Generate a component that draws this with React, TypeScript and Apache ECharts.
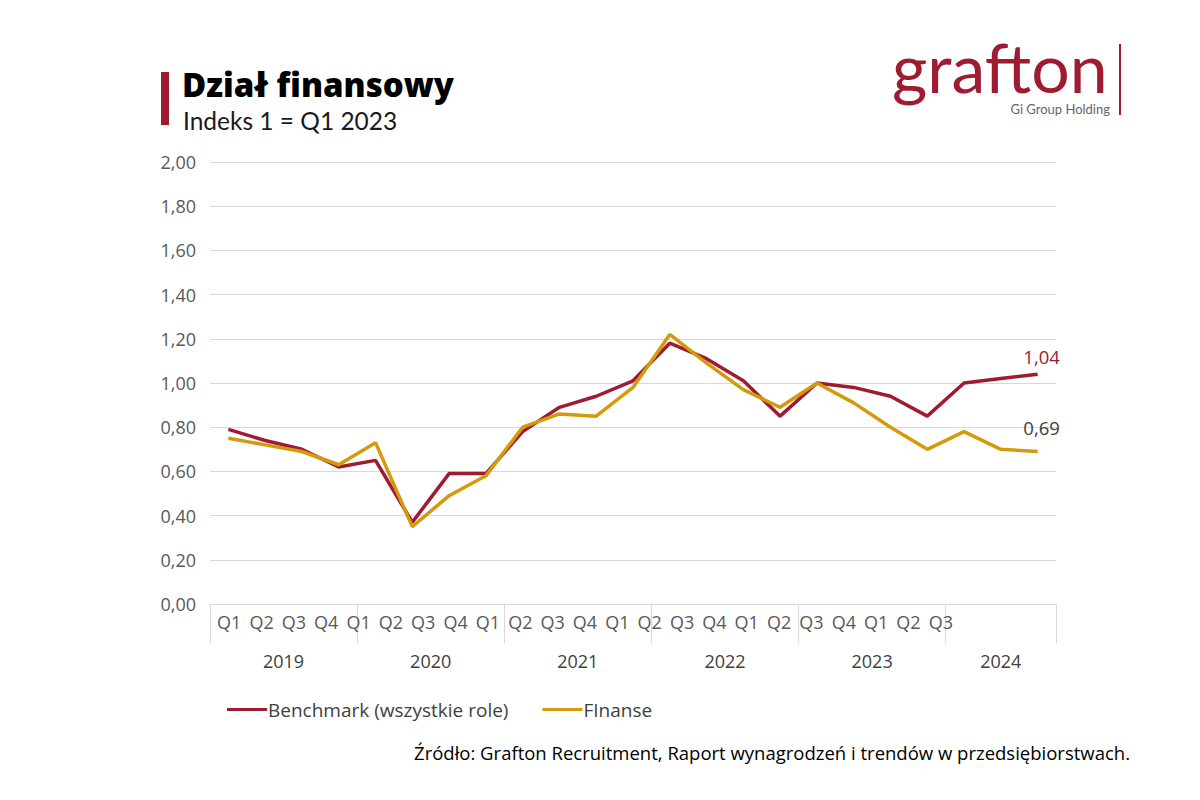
import React, { useEffect, useRef } from "react";
import * as echarts from "echarts";

const quarters = ["Q1","Q2","Q3","Q4","Q1","Q2","Q3","Q4","Q1","Q2","Q3","Q4","Q1","Q2","Q3","Q4","Q1","Q2","Q3","Q4","Q1","Q2","Q3"];
const periods = ["2019Q1","2019Q2","2019Q3","2019Q4","2020Q1","2020Q2","2020Q3","2020Q4","2021Q1","2021Q2","2021Q3","2021Q4","2022Q1","2022Q2","2022Q3","2022Q4","2023Q1","2023Q2","2023Q3","2023Q4","2024Q1","2024Q2","2024Q3"];
const years = ["2019", "2020", "2021", "2022", "2023", "2024"];
const quartersPerYear = [4, 4, 4, 4, 4, 3];
const benchmark = [0.79, 0.74, 0.70, 0.62, 0.65, 0.37, 0.59, 0.59, 0.78, 0.89, 0.94, 1.01, 1.18, 1.11, 1.01, 0.85, 1.00, 0.98, 0.94, 0.85, 1.00, 1.02, 1.04];
const finanse = [0.75, 0.72, 0.69, 0.63, 0.73, 0.35, 0.49, 0.58, 0.80, 0.86, 0.85, 0.98, 1.22, 1.09, 0.97, 0.89, 1.00, 0.91, 0.80, 0.70, 0.78, 0.70, 0.69];
const yTicks = { min: 0, max: 2, interval: 0.2 };

const RED = "#9E1B32";
const GOLD = "#D39B0B";
const GRAY = "#595959";
const FONT = "Open Sans";

export default function App() {
  const ref = useRef<HTMLDivElement>(null);
  useEffect(() => {
    if (!ref.current) return;
    const chart = echarts.init(ref.current, null, { renderer: "svg" });

    const bounds: number[] = [0];
    quartersPerYear.forEach((q) => bounds.push(bounds[bounds.length - 1] + q));
    const centers = years.map((_, i) => (bounds[i] + bounds[i + 1]) / 2);
    const total = bounds[bounds.length - 1];

    const last = benchmark.length - 1;
    const withLabel = (arr: number[], color: string, dist: number) =>
      arr.map((v, i) =>
        i === last
          ? {
              value: v,
              label: {
                show: true,
                position: "top",
                distance: dist,
                offset: [4, 0],
                color,
                fontSize: 18.5,
                fontFamily: FONT,
                formatter: (p: any) => Number(p.value).toFixed(2).replace(".", ","),
              },
            }
          : v
      );

    chart.setOption({
      animation: false,
      backgroundColor: "#ffffff",
      textStyle: { fontFamily: FONT },
      grid: [
        { left: 210, right: 144, top: 162, bottom: 196, containLabel: false },
        { left: 213, width: 744, top: 162, bottom: 196, containLabel: false },
      ],
      xAxis: [
        {
          type: "category",
          gridIndex: 0,
          data: periods,
          boundaryGap: true,
          show: false,
        },
        {
          type: "category",
          gridIndex: 1,
          data: quarters,
          position: "bottom",
          axisLine: { show: false },
          axisTick: { show: false },
          axisLabel: { interval: 0, margin: 9, color: GRAY, fontSize: 18, fontFamily: FONT },
        },
        {
          type: "value",
          gridIndex: 0,
          position: "bottom",
          min: 0,
          max: total,
          splitLine: { show: false },
          axisLine: { show: true, lineStyle: { color: "#D9D9D9", width: 1 } },
          axisTick: {
            show: true,
            customValues: bounds,
            length: 39,
            lineStyle: { color: "#D9D9D9", width: 1 },
          },
          axisLabel: {
            customValues: centers,
            margin: 48,
            color: "#404040",
            fontSize: 18,
            fontFamily: FONT,
            formatter: (v: number) => {
              const idx = centers.findIndex((c) => Math.abs(c - v) < 1e-6);
              return idx >= 0 ? years[idx] : "";
            },
          },
        },
      ],
      yAxis: [
        {
          type: "value",
          gridIndex: 0,
          min: yTicks.min,
          max: yTicks.max,
          interval: yTicks.interval,
          axisLine: { show: false },
          axisTick: { show: false },
          splitLine: { lineStyle: { color: "#D9D9D9", width: 1 } },
          axisLabel: {
            margin: 14,
            color: GRAY,
            fontSize: 18,
            fontFamily: FONT,
            formatter: (v: number) => v.toFixed(2).replace(".", ","),
          },
        },
        { type: "value", gridIndex: 1, min: 0, max: 1, show: false },
      ],
      legend: {
        left: 222,
        top: 695,
        icon: "rect",
        itemWidth: 40,
        itemHeight: 3,
        itemGap: 34,
        textStyle: { color: "#404040", fontSize: 19, fontFamily: FONT, padding: [0, 0, 0, -4] },
        data: ["Benchmark (wszystkie role)", "FInanse"],
      },
      series: [
        {
          name: "Benchmark (wszystkie role)",
          type: "line",
          xAxisIndex: 0,
          yAxisIndex: 0,
          data: withLabel(benchmark, RED, 8),
          symbol: "circle",
          symbolSize: 0,
          showSymbol: true,
          lineStyle: { color: RED, width: 3.5 },
          itemStyle: { color: RED },
          z: 3,
        },
        {
          name: "FInanse",
          type: "line",
          xAxisIndex: 0,
          yAxisIndex: 0,
          data: withLabel(finanse, "#404040", 15),
          symbol: "circle",
          symbolSize: 0,
          showSymbol: true,
          lineStyle: { color: GOLD, width: 3.5 },
          itemStyle: { color: GOLD },
          z: 4,
        },
      ],
      graphic: [
        { type: "rect", shape: { x: 161, y: 72, width: 8, height: 53 }, style: { fill: RED } },
        {
          type: "text",
          x: 182,
          y: 84,
          style: { text: "Dział finansowy", font: `800 33px "Open Sans"`, lineHeight: 28, fill: "#000000", verticalAlign: "middle" },
        },
        {
          type: "text",
          x: 183,
          y: 120,
          style: { text: "Indeks 1 = Q1 2023", font: `400 24.5px Lato`, lineHeight: 20, fill: "#1a1a1a", verticalAlign: "middle" },
        },
        {
          type: "text",
          x: 892,
          y: 66,
          style: { text: "grafton", font: `400 68px Lato`, lineHeight: 50, fill: RED, verticalAlign: "middle" },
        },
        { type: "rect", shape: { x: 1119, y: 44, width: 2, height: 71 }, style: { fill: RED } },
        {
          type: "text",
          x: 1110,
          y: 109,
          style: { text: "Gi Group Holding", font: `400 13px Lato`, lineHeight: 12, fill: "#666666", align: "right", verticalAlign: "middle" },
        },
        {
          type: "text",
          x: 1130,
          y: 752,
          style: {
            text: "Źródło: Grafton Recruitment, Raport wynagrodzeń i trendów w przedsiębiorstwach.",
            font: `400 18.5px "Open Sans"`,
            fill: "#000000",
            align: "right",
            verticalAlign: "middle",
          },
        },
      ],
    });
    return () => chart.dispose();
  }, []);
  return (
    <div
      ref={ref}
      style={{ position: "fixed", left: 0, top: 0, width: 1200, height: 800, background: "#fff" }}
    />
  );
}
